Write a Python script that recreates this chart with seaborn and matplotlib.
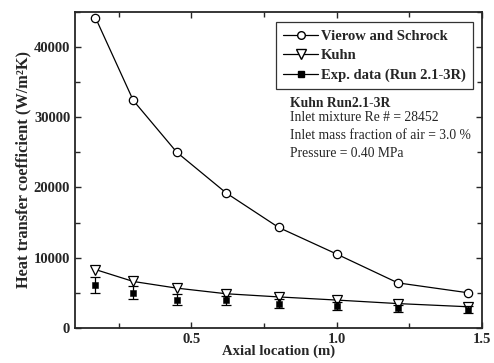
import numpy as np
import matplotlib
matplotlib.use("Agg")
import matplotlib.pyplot as plt
import seaborn as sns
from matplotlib.lines import Line2D
from matplotlib.ticker import MultipleLocator

# data
axial = [0.17, 0.30, 0.45, 0.62, 0.80, 1.00, 1.21, 1.45]
vierow = [44200, 32400, 25000, 19200, 14300, 10500, 6400, 5000]
kuhn = [8300, 6600, 5650, 4850, 4400, 3950, 3450, 3000]
exp_h = [6050, 5000, 4000, 3900, 3450, 3100, 2750, 2600]
exp_err = [1150, 950, 750, 700, 650, 580, 520, 500]

sns.set_style("ticks")
plt.rcParams['font.family'] = ['Liberation Serif', 'DejaVu Serif']

fig = plt.figure(figsize=(4.94, 3.63), dpi=100)
ax = fig.add_axes([0.152, 0.097, 0.824, 0.870])

sns.lineplot(x=axial, y=vierow, ax=ax, color="black", lw=0.9, marker="o",
             markersize=6, markerfacecolor="white", markeredgecolor="black",
             markeredgewidth=0.9)
sns.lineplot(x=axial, y=kuhn, ax=ax, color="black", lw=0.9, marker="v",
             markersize=7.5, markerfacecolor="white", markeredgecolor="black",
             markeredgewidth=0.9)
ax.errorbar(axial, exp_h, yerr=exp_err, fmt="none", ecolor="black",
            elinewidth=0.9, capsize=3.3, capthick=0.9)
sns.scatterplot(x=axial, y=exp_h, ax=ax, color="black", marker="s", s=22,
                edgecolor="black", zorder=3)

ax.set_xlim(0.1, 1.5)
ax.set_ylim(0, 45000)
ax.xaxis.set_major_locator(MultipleLocator(0.5))
ax.xaxis.set_minor_locator(MultipleLocator(0.25))
ax.yaxis.set_major_locator(MultipleLocator(10000))
ax.yaxis.set_minor_locator(MultipleLocator(5000))
ax.tick_params(which="both", direction="in", top=True, right=True,
               width=1.0, labelsize=10.5)
ax.tick_params(which="major", length=4)
ax.tick_params(which="minor", length=3.5)
for lab in ax.get_xticklabels() + ax.get_yticklabels():
    lab.set_fontweight("bold")
for sp in ax.spines.values():
    sp.set_linewidth(1.3)

ax.set_xlabel("Axial location (m)", fontsize=10.6, fontweight="bold", labelpad=-1)
ax.set_ylabel("Heat transfer coefficient (W/m²K)", fontsize=11.8,
              fontweight="bold", labelpad=2)

handles = [
    Line2D([], [], color="black", lw=0.9, marker="o", markersize=5.5,
           markerfacecolor="white"),
    Line2D([], [], color="black", lw=0.9, marker="v", markersize=6.5,
           markerfacecolor="white"),
    Line2D([], [], color="black", lw=0.9, marker="s", markersize=4.5,
           markerfacecolor="black"),
]
leg = ax.legend(handles, ["Vierow and Schrock", "Kuhn", "Exp. data (Run 2.1-3R)"],
                loc="upper right", bbox_to_anchor=(0.977, 0.967),
                frameon=True, fancybox=False, edgecolor="black",
                prop={"weight": "bold", "size": 10.5}, handlelength=2.4,
                handletextpad=0.15, borderpad=0.5, labelspacing=0.42,
                borderaxespad=0)
leg.get_frame().set_linewidth(0.9)

ax.text(0.529, 0.71, "Kuhn Run2.1-3R", transform=ax.transAxes,
        fontsize=9.8, fontweight="bold", va="center")
notes = ["Inlet mixture Re # = 28452",
         "Inlet mass fraction of air = 3.0 %",
         "Pressure = 0.40 MPa"]
for i, t in enumerate(notes):
    ax.text(0.529, 0.665 - i * 0.057, t, transform=ax.transAxes,
            fontsize=9.8, va="center")

fig.savefig("out.png", dpi=100)
